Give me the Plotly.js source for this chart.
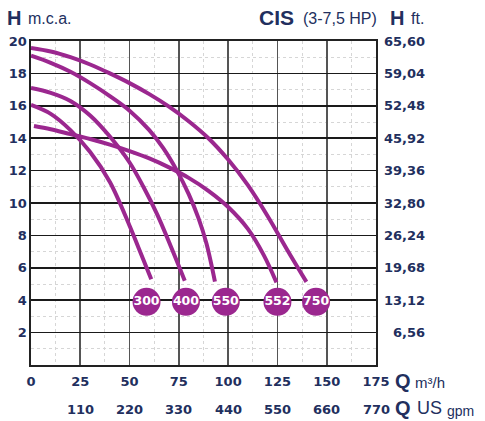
<!DOCTYPE html>
<html>
<head>
<meta charset="utf-8">
<script src="https://cdn.plot.ly/plotly-3.0.1.min.js"></script>
<style>html,body{margin:0;padding:0;background:#fff;}#chart{width:485px;height:421px;}</style>
</head>
<body>
<div id="chart"></div>
<script>
// ---- data (Q in m3/h, H in m) ----
const q300 = [0, 10, 20, 30, 40, 50, 55, 61];
const h300 = [16.05, 15.5, 14.5, 13.15, 11.3, 8.6, 7.1, 5.3];

const q400 = [0, 10, 20, 30, 40, 50, 57, 64, 71, 78];
const h400 = [17.1, 16.8, 16.3, 15.4, 14.1, 12.5, 11.0, 9.3, 7.3, 5.2];

const q550 = [0, 10, 20, 30, 40, 50, 60, 67, 74, 80, 85, 89, 93.3];
const h550 = [19.09, 18.65, 18.1, 17.4, 16.6, 15.7, 14.5, 13.4, 12.0, 10.55, 9.05, 7.5, 5.15];

const q552 = [1.5, 10, 20, 30, 40, 50, 60, 70, 80, 90, 100, 110, 118, 124.5];
const h552 = [14.75, 14.55, 14.25, 13.95, 13.6, 13.2, 12.75, 12.2, 11.55, 10.75, 9.75, 8.4, 6.8, 5.1];

const q750 = [0, 10, 20, 30, 40, 50, 60, 70, 80, 90, 100, 110, 120, 130, 139.7];
const h750 = [19.57, 19.35, 19.0, 18.55, 18.0, 17.4, 16.72, 15.95, 15.05, 14.0, 12.68, 11.1, 9.2, 7.1, 5.13];

const modelNames = ['300', '400', '550', '552', '750'];
const labelQ = [58.6, 78.6, 98.8, 125, 144.6];
const labelH = [3.9, 3.9, 3.9, 3.9, 3.9];

const qTicks = [0, 25, 50, 75, 100, 125, 150, 175];
const qTickText = ['0', '25', '50', '75', '100', '125', '150', '175'];
const gpmTickQ = [25, 50, 75, 100, 125, 150, 175];
const gpmTickText = ['110', '220', '330', '440', '550', '660', '770'];
const hTicks = [2, 4, 6, 8, 10, 12, 14, 16, 18, 20];
const ftTickText = ['6,56', '13,12', '19,68', '26,24', '32,80', '39,36', '45,92', '52,48', '59,04', '65,60'];

// ---- styling ----
const PURPLE = '#9b278f';
const NAVY = '#222f5e';
const BOLD = 'DejaVu Sans, sans-serif';
const SANS = 'Liberation Sans, Arial, sans-serif';

const L = 31, R = 109, T = 41, B = 56, W = 485, H = 421;
const pw = W - L - R, ph = H - T - B;
const xp = px => (px - L) / pw;
const yp = py => (H - B - py) / ph;

const curves = [[q300, h300], [q400, h400], [q550, h550], [q552, h552], [q750, h750]];
const traces = curves.map(([q, h]) => ({
  x: q, y: h, type: 'scatter', mode: 'lines',
  line: {color: PURPLE, width: 4, shape: 'spline', smoothing: 1},
  hoverinfo: 'skip', showlegend: false
}));
traces.push({
  x: labelQ, y: labelH, type: 'scatter', mode: 'markers+text',
  text: modelNames, textposition: 'middle center',
  textfont: {family: BOLD, size: 12.5, color: '#ffffff', weight: 'bold'},
  marker: {size: 28, color: PURPLE, line: {width: 0}},
  hoverinfo: 'skip', showlegend: false, cliponaxis: false
});

const annotations = [];
function ann(text, x, y, size, family, bold, anchor) {
  annotations.push({
    text: bold ? '<b>' + text + '</b>' : text,
    xref: 'paper', yref: 'paper', x: x, y: y,
    xanchor: anchor || 'left', yanchor: 'middle', showarrow: false,
    font: {family: family, size: size, color: NAVY}, borderpad: 0
  });
}
// header
ann('H', xp(6), yp(18), 20, SANS, true);
ann('m.c.a.', xp(27), yp(19), 16, SANS, false);
ann('CIS', xp(258), yp(18), 21, SANS, true);
ann('(3-7,5 HP)', xp(301.5), yp(18.5), 16, SANS, false);
ann('H', xp(389), yp(18), 20, SANS, true);
ann('ft.', xp(409.5), yp(19), 16, SANS, false);
// bottom axis titles
ann('Q', xp(394), yp(380.5), 20, SANS, true);
ann('m³/h', xp(414), yp(382.5), 15, SANS, false);
ann('Q', xp(394), yp(408), 20, SANS, true);
ann('US', xp(415.5), yp(408), 18, SANS, false);
ann('gpm', xp(446), yp(410.5), 14, SANS, false);
// US gpm row of tick labels
gpmTickQ.forEach((q, i) => annotations.push({
  text: '<b>' + gpmTickText[i] + '</b>', xref: 'x', yref: 'paper', x: q, y: yp(409),
  xanchor: 'center', yanchor: 'middle', showarrow: false, borderpad: 0,
  font: {family: BOLD, size: 13, color: NAVY}
}));
// feet labels on the right
hTicks.forEach((h, i) => annotations.push({
  text: '<b>' + ftTickText[i] + '</b>', xref: 'paper', yref: 'y', x: xp(425.5), y: h,
  xanchor: 'right', yanchor: 'middle', showarrow: false, borderpad: 0,
  font: {family: BOLD, size: 13, color: NAVY}
}));

const layout = {
  width: W, height: H,
  margin: {l: L, r: R, t: T, b: B, pad: 0},
  paper_bgcolor: '#ffffff', plot_bgcolor: '#ffffff',
  showlegend: false,
  xaxis: {
    range: [0, 175], tickvals: qTicks, ticktext: qTickText.map(t => '<b>' + t + '</b>'),
    tickfont: {family: BOLD, size: 13, color: NAVY},
    ticks: '', ticklabelstandoff: 4,
    showgrid: true, gridcolor: '#555555', gridwidth: 1.6,
    showline: true, linecolor: '#222222', linewidth: 1.6, mirror: true,
    zeroline: false, fixedrange: true,
    minor: {dtick: 12.5, tick0: 0, showgrid: true, gridcolor: '#d6d6d6', gridwidth: 1, griddash: 'dot', ticks: ''}
  },
  yaxis: {
    range: [0, 20], tickvals: hTicks, ticktext: hTicks.map(t => '<b>' + t + '</b>'),
    tickfont: {family: BOLD, size: 13, color: NAVY},
    ticks: '', ticklabelstandoff: 0,
    showgrid: true, gridcolor: '#1a1a1a', gridwidth: 1.5,
    showline: true, linecolor: '#222222', linewidth: 1.6, mirror: true,
    zeroline: false, fixedrange: true,
    minor: {dtick: 1, tick0: 0, showgrid: true, gridcolor: '#d6d6d6', gridwidth: 1, griddash: 'dot', ticks: ''}
  },
  annotations: annotations
};

Plotly.newPlot('chart', traces, layout, {staticPlot: true, displayModeBar: false});
</script>
</body>
</html>
